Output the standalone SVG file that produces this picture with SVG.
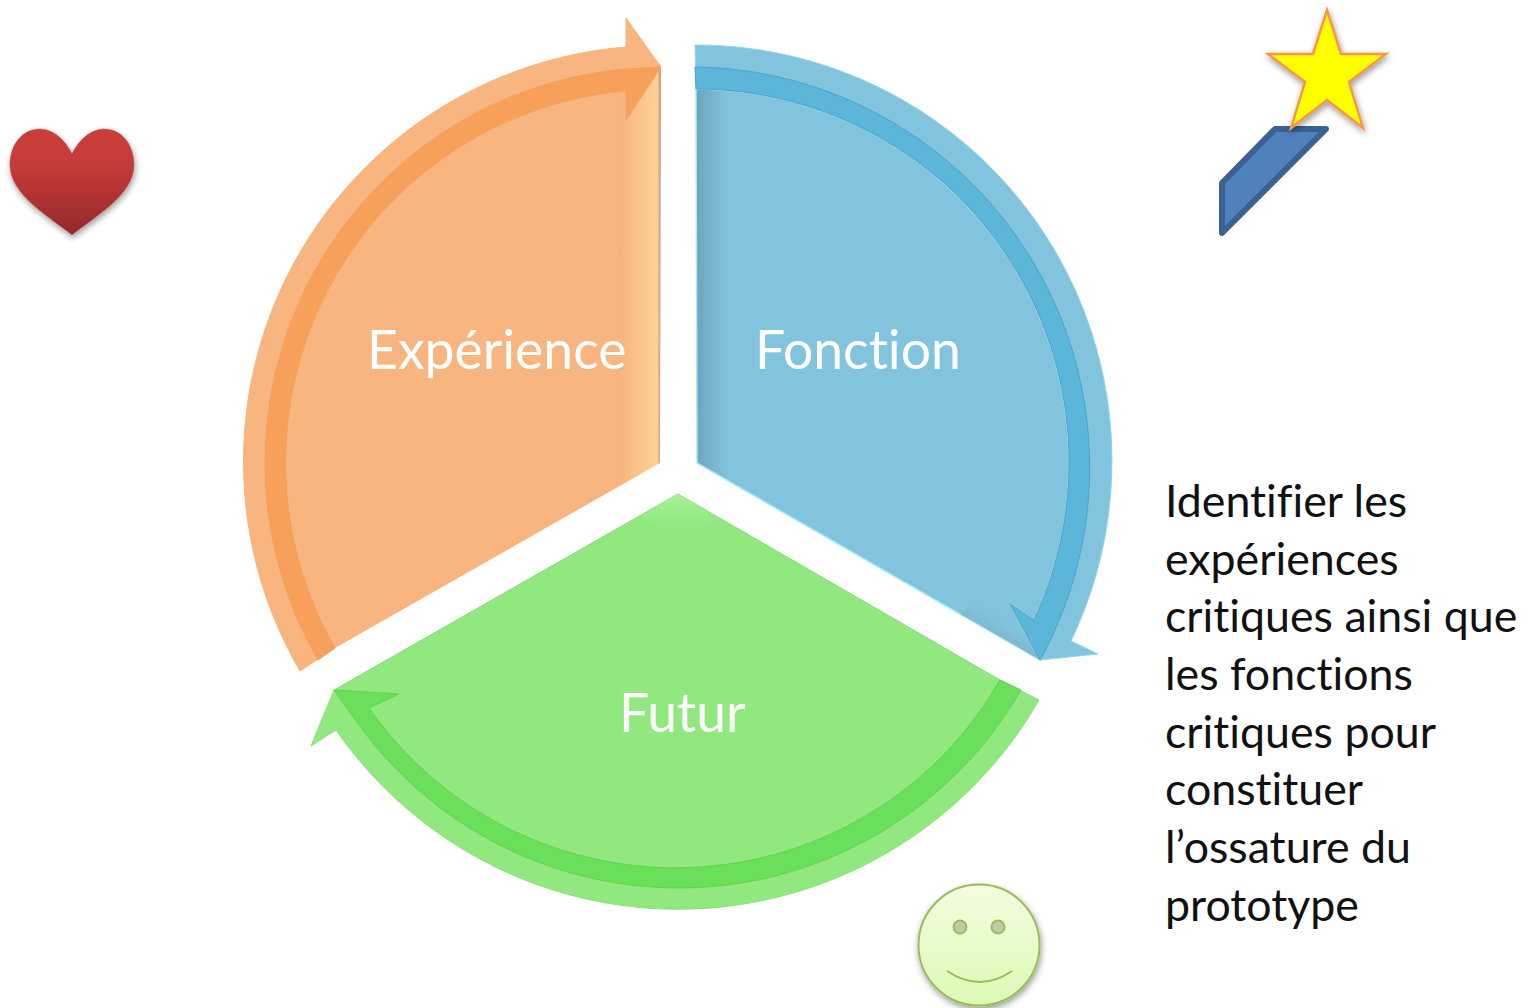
<svg xmlns="http://www.w3.org/2000/svg" width="1535" height="1008" viewBox="0 0 1535 1008">
<style>
.lbl{font-family:"Lato","Carlito","Open Sans",sans-serif;font-size:53.5px;fill:#fff;font-variant-ligatures:none}
.txt{font-family:"Lato","Carlito","Open Sans",sans-serif;font-size:44.7px;fill:#111;font-variant-ligatures:none}
</style>
<defs>
<filter id="sh" x="-20%" y="-20%" width="140%" height="140%"><feDropShadow dx="1" dy="3" stdDeviation="3" flood-color="#000" flood-opacity=".4"/></filter>
<filter id="soft" x="-5%" y="-5%" width="110%" height="110%"><feGaussianBlur stdDeviation=".7"/></filter>
<linearGradient id="oEdge" gradientUnits="userSpaceOnUse" x1="622" y1="0" x2="660" y2="0"><stop offset="0" stop-color="#f8b57f"/><stop offset=".85" stop-color="#fdd093"/><stop offset=".93" stop-color="#fdd093"/><stop offset="1" stop-color="#cf9f7c"/></linearGradient>
<linearGradient id="bEdge" gradientUnits="userSpaceOnUse" x1="696" y1="0" x2="728" y2="0"><stop offset="0" stop-color="#6ea3bd"/><stop offset="1" stop-color="#82c4dd"/></linearGradient>
<linearGradient id="bEdge2" gradientUnits="userSpaceOnUse" x1="1015" y1="655" x2="1030" y2="628"><stop offset="0" stop-color="#7aa9c2"/><stop offset="1" stop-color="#82c4dd" stop-opacity="0"/></linearGradient>
<linearGradient id="gApex" gradientUnits="userSpaceOnUse" x1="678" y1="494" x2="678" y2="540"><stop offset="0" stop-color="#a9f298"/><stop offset="1" stop-color="#90e87e" stop-opacity="0"/></linearGradient>
<linearGradient id="heart" x1="0" y1="0" x2="0" y2="1"><stop offset="0" stop-color="#cb3d39"/><stop offset=".35" stop-color="#c53b38"/><stop offset="1" stop-color="#94282a"/></linearGradient>
<linearGradient id="smile" x1="0" y1="0" x2="0" y2="1"><stop offset="0" stop-color="#f3fde0"/><stop offset="1" stop-color="#dcf9b4"/></linearGradient>
</defs>

<g id="node-experience">
<path filter="url(#soft)" fill="url(#oEdge)" d="M335,648A373,373 0 0 1 626,91L626,120L661,67L660,463Z"/>
<text class="lbl" x="367" y="369">Expérience</text>
</g>
<g id="node-fonction">
<path filter="url(#soft)" fill="url(#bEdge)" stroke="#a6edf5" stroke-width="1.5" d="M696,89A373,373 0 0 1 1034,620L1010,604L1040,660L697,463Z"/>
<path fill="url(#bEdge2)" d="M1010,604L1040,660L960,614L990,590Z"/>
<text class="lbl" x="755" y="369">Fonction</text>
</g>
<g id="node-futur">
<path filter="url(#soft)" fill="#90e87e" stroke="#86dc78" stroke-width="1" d="M678,494L1000,680A374,374 0 0 1 369,708L399,694L334,690Z"/>
<path fill="url(#gApex)" d="M678,494L720,519L678,540L640,516Z"/>
<text class="lbl" x="619" y="732">Futur</text>
</g>

<g id="connectors" filter="url(#soft)">
<g id="arrow-experience">
<path fill="#f8b57f" stroke="#f5b57e" stroke-width="1" d="M300,671A416,416 0 0 1 626,47L626,18L661,67L626,120L626,91A373,373 0 0 0 335,648Z"/>
<path fill="#f7a05a" stroke="#efa263" stroke-width="1" d="M318,660A395,395 0 0 1 626,69L661,67L626,120L626,91A373,373 0 0 0 335,648Z"/>
</g>
<g id="arrow-fonction">
<path fill="#82c4dd" stroke="#8fd6ec" stroke-width="1" d="M695,45A416,416 0 0 1 1071,641L1098,654L1040,660L1010,604L1034,620A373,373 0 0 0 696,89Z"/>
<path fill="#5cb6da" stroke="#4fa3c6" stroke-width="1" d="M695,67A400,400 0 0 1 1040,660L1010,604L1034,620A373,373 0 0 0 696,89Z"/>
</g>
<g id="arrow-futur">
<path fill="#90e87e" stroke="#8ce07b" stroke-width="1" d="M1039,700A416,416 0 0 1 336,730L311,746L334,690L399,694L369,708A374,374 0 0 0 1000,680Z"/>
<path fill="#6be05a" stroke="#62d352" stroke-width="1" d="M1021,690A395,395 0 0 1 352,715L334,690L399,694L369,708A374,374 0 0 0 1000,680Z"/>
</g>
</g>

<g id="node-heart">
<path filter="url(#sh)" fill="url(#heart)" stroke="#bb4a48" stroke-width=".5" d="M72,154C64,138 52,129 40,129C22,129 10,145 10,165C10,195 50,217 72,235C94,217 134,195 134,165C134,145 122,129 104,129C92,129 80,138 72,154Z"/>
</g>
<g id="node-wand">
<path fill="#4f81bd" stroke="#3a6190" stroke-width="6" stroke-linejoin="round" d="M1275,129L1326,129L1222,233L1222,183Z"/>
</g>
<g id="node-star">
<path filter="url(#sh)" fill="#ff0" stroke="#f79646" stroke-width="2.5" d="M1327,10L1341,54L1386,54L1349,82L1363,128L1327,100L1291,128L1305,82L1268,54L1313,54Z"/>
</g>
<g id="node-smiley">
<circle filter="url(#sh)" cx="979" cy="945" r="60.5" fill="url(#smile)" stroke="#9bbb59" stroke-width="2"/>
<circle cx="960" cy="927" r="6.5" fill="#bccca8" stroke="#9bbb59" stroke-width="2"/>
<circle cx="998" cy="927" r="6.5" fill="#bccca8" stroke="#9bbb59" stroke-width="2"/>
<path d="M947,971Q980,993 1012,971" fill="none" stroke="#9bbb59" stroke-width="2"/>
</g>
<g id="node-text">
<text class="txt" x="1165" y="517">Identifier les</text>
<text class="txt" x="1165" y="575">expériences</text>
<text class="txt" x="1165" y="632">critiques ainsi que</text>
<text class="txt" x="1165" y="690">les fonctions</text>
<text class="txt" x="1165" y="748">critiques pour</text>
<text class="txt" x="1165" y="805">constituer</text>
<text class="txt" x="1165" y="863">l’ossature du</text>
<text class="txt" x="1165" y="921">prototype</text>
</g>
</svg>
